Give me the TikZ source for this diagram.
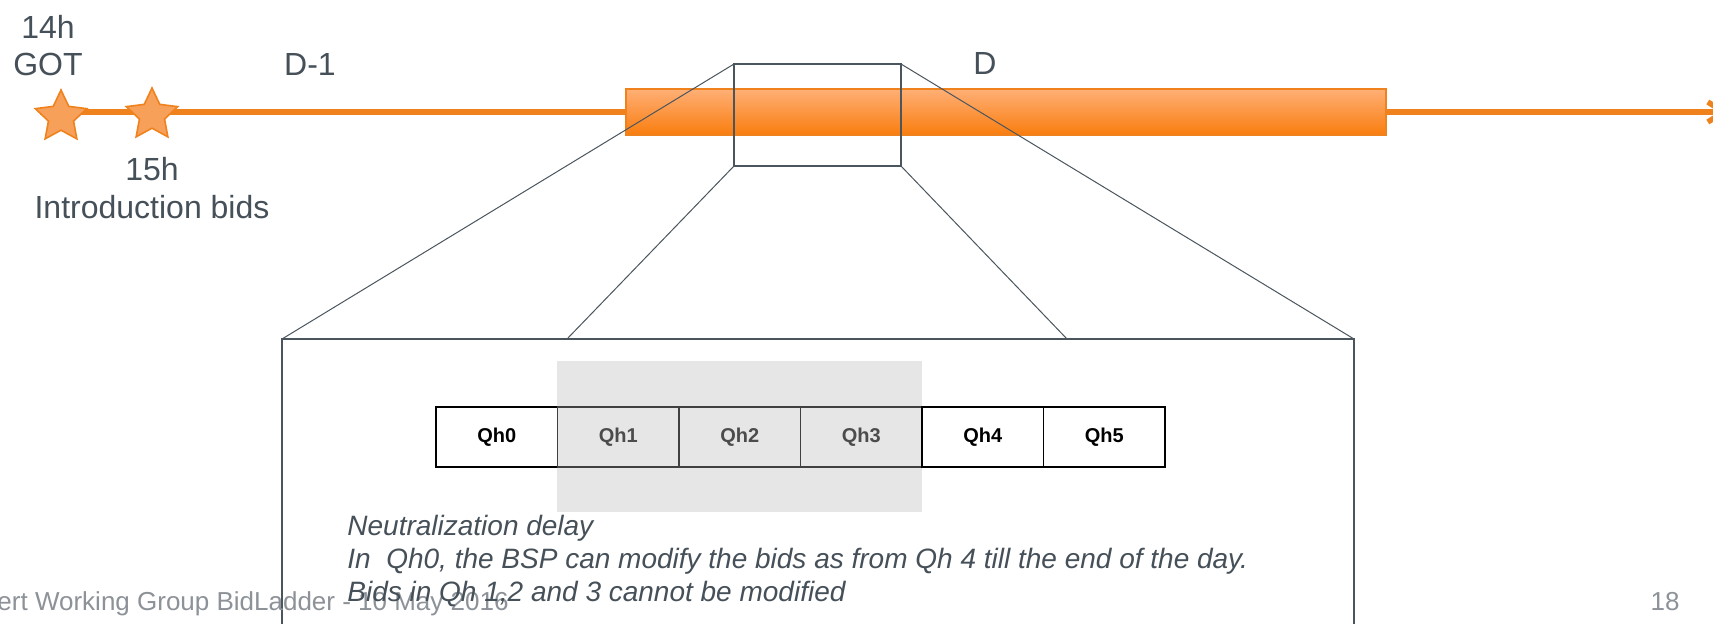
\documentclass[tikz,border=0pt]{standalone}
\usepackage{fontspec}
\setmainfont{Liberation Sans}
\usetikzlibrary{shapes.geometric,arrows.meta}
\definecolor{txt}{RGB}{70,80,89}
\definecolor{orng}{RGB}{240,130,30}
\definecolor{barTop}{RGB}{255,175,118}
\definecolor{barBot}{RGB}{249,125,14}
\definecolor{starFill}{RGB}{246,160,90}
\definecolor{frameC}{RGB}{75,85,93}
\definecolor{foot}{RGB}{140,146,152}
\definecolor{shadeC}{RGB}{230,230,230}
\tikzset{
  bigtxt/.style={text=txt, font=\fontsize{16pt}{19pt}\selectfont, inner sep=0pt},
  itxt/.style={text=txt, font=\fontsize{14pt}{17pt}\selectfont\itshape, inner sep=0pt, anchor=base west},
  foottxt/.style={text=foot, font=\fontsize{13pt}{16pt}\selectfont, inner sep=0pt},
  starnode/.style={star, star points=5, star point ratio=2.05, minimum size=27pt, inner sep=0pt,
     fill=starFill, draw=orng, line width=0.8pt},
  cell/.style={draw=black, line width=0.8pt, minimum width=60.75pt, minimum height=30pt,
     inner sep=0pt, outer sep=0pt, font=\fontsize{10pt}{12pt}\selectfont\bfseries},
  framebox/.style={draw=frameC, line width=1pt, inner sep=0pt, outer sep=0pt},
  zoomline/.style={draw=frameC, line width=0.5pt},
}
\begin{document}
\begin{tikzpicture}[x=0.5pt,y=-0.5pt]
\useasboundingbox (0,0) rectangle (1713,623);
\fill[white] (0,0) rectangle (1713,623);
\clip (0,0) rectangle (1713,623);

% timeline
\coordinate (lstart) at (40,112);
\coordinate (lend) at (1729,112);
\draw[orng, line width=2.75pt, -{Straight Barb[length=8pt,width=10pt]}] (lstart) -- (lend);

% orange bar (day D)
\node[draw=orng, line width=1pt, top color=barTop, bottom color=barBot,
      minimum width=380pt, minimum height=23pt, inner sep=0pt] (bar) at (1006,112) {};

% stars
\node[starnode] (star1) at (61,117) {};
\node[starnode] (star2) at (152,115) {};

% labels
\node[bigtxt, anchor=base] (t14) at (48,38) {14h};
\node[bigtxt, anchor=base] (tgot) at (48,75) {GOT};
\node[bigtxt, anchor=base] (td1) at (310,75) {D-1};
\node[bigtxt, anchor=base] (td) at (985,74) {D};
\node[bigtxt, anchor=base] (t15) at (152,180) {15h};
\node[bigtxt, anchor=base] (tintro) at (152,218) {Introduction bids};

% zoom box and detail box
\node[framebox, minimum width=83.5pt, minimum height=51pt] (zoom) at (817.5,115) {};
\node[framebox, fill=white, minimum width=536pt, minimum height=180.5pt] (detail) at (818,519.5) {};
\coordinate (dl) at (567,339);
\coordinate (dr) at (1067,339);
\draw[zoomline] (zoom.north west) -- (detail.north west);
\draw[zoomline] (zoom.north east) -- (detail.north east);
\draw[zoomline] (zoom.south west) -- (dl);
\draw[zoomline] (zoom.south east) -- (dr);

% shaded region
\fill[shadeC] (557,361) rectangle (922,512);

% quarter-hour cells
\node[cell] (q0) at (496.75,437) {Qh0};
\node[cell, text=black!70, draw=black!75] (q1) at (618.25,437) {Qh1};
\node[cell, text=black!70, draw=black!75] (q2) at (739.75,437) {Qh2};
\node[cell, text=black!70, draw=black!75] (q3) at (861.25,437) {Qh3};
\node[cell] (q4) at (982.75,437) {Qh4};
\node[cell] (q5) at (1104.25,437) {Qh5};

% footer
\node[foottxt, anchor=base east] (footer) at (509,610) {Expert Working Group BidLadder - 10 May 2016};
\node[foottxt, anchor=base] (pnum) at (1665,610) {18};

% explanation text
\node[itxt] (e1) at (347,535) {Neutralization delay};
\node[itxt] (e2) at (347,568) {In\ \ Qh0, the BSP can modify the bids as from Qh 4 till the end of the day.};
\node[itxt] (e3) at (347,601) {Bids in Qh 1,2 and 3 cannot be modified};
\end{tikzpicture}
\end{document}
